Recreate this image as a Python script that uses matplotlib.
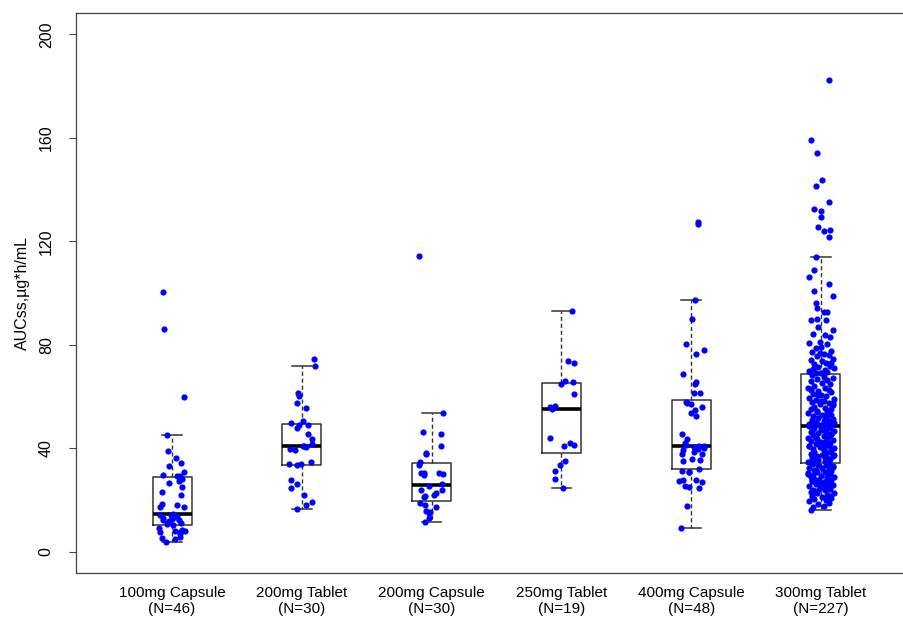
import matplotlib.pyplot as plt
import numpy as np

plt.rcParams['font.family'] = ['Liberation Sans', 'DejaVu Sans']

groups = ["100mg Capsule", "200mg Tablet", "200mg Capsule",
          "250mg Tablet", "400mg Capsule", "300mg Tablet"]
counts = [46, 30, 30, 19, 48, 227]

# AUCss values, with the horizontal jitter of each dot
auc_100cap = [100.5, 86.0, 59.6, 45.0, 39.0, 36.2, 34.1, 33.1, 30.9, 29.6,
              29.1, 29.3, 28.1, 27.1, 26.4, 24.8, 22.9, 21.9, 18.1, 18.3,
              17.1, 14.1, 14.5, 17.1, 12.9, 12.1, 13.2, 12.2, 11.7, 12.4,
              10.7, 10.2, 9.1, 7.5, 7.8, 7.5, 8.5, 7.8, 6.8, 5.1,
              5.5, 4.7, 3.5, 13.8, 11.0, 14.2]
jit_100cap = [-0.07, -0.06, 0.09, -0.04, -0.03, 0.03, 0.07, -0.02, 0.09, -0.07,
              0.04, 0.06, 0.08, 0.05, -0.02, 0.08, -0.08, 0.07, 0.04, -0.08,
              -0.09, -0.09, 0.01, 0.09, -0.07, -0.07, 0.03, 0.05, -0.02, 0.00,
              -0.04, 0.01, -0.10, -0.09, 0.02, 0.06, 0.08, 0.10, 0.06, -0.08,
              0.06, 0.02, -0.05, 0.04, 0.07, -0.01]

auc_200tab = [74.6, 71.9, 61.3, 60.0, 57.4, 55.7, 49.7, 50.5, 48.9, 48.9,
              47.8, 45.4, 43.6, 41.0, 40.4, 41.6, 39.7, 39.4, 34.0, 33.6,
              33.7, 34.5, 27.8, 26.3, 24.7, 22.0, 19.0, 18.0, 16.3, 40.8]
jit_200tab = [0.09, 0.10, -0.03, -0.02, -0.04, 0.03, -0.08, 0.01, -0.02, 0.05,
              -0.04, 0.05, 0.08, 0.02, 0.03, 0.08, -0.09, -0.05, -0.10, -0.04,
              -0.01, 0.07, -0.08, -0.04, -0.08, 0.02, 0.08, 0.03, -0.04, 0.01]

auc_200cap = [114.3, 53.4, 46.1, 45.6, 40.9, 38.3, 37.6, 34.6, 33.3, 30.4,
              30.4, 29.7, 30.4, 30.0, 26.3, 25.5, 23.9, 23.9, 22.7, 22.0,
              21.1, 21.5, 18.9, 18.1, 17.1, 15.6, 14.9, 12.9, 11.5, 15.3]
jit_200cap = [-0.10, 0.09, -0.07, 0.07, 0.07, -0.04, -0.04, -0.09, -0.10, -0.08,
              -0.06, -0.06, 0.06, 0.09, 0.08, -0.02, -0.08, 0.08, 0.03, 0.02,
              -0.06, -0.05, -0.09, -0.05, 0.03, -0.04, -0.02, -0.02, -0.05, -0.01]

auc_250tab = [93.1, 73.6, 72.8, 64.7, 65.8, 65.6, 60.9, 55.9, 55.1, 56.4,
              44.1, 40.9, 41.8, 41.2, 35.0, 33.3, 31.3, 27.9, 24.4]
jit_250tab = [0.08, 0.05, 0.10, 0.00, 0.03, 0.09, 0.10, -0.09, -0.07, -0.05,
              -0.09, 0.02, 0.07, 0.10, 0.03, -0.01, -0.05, -0.05, 0.01]

auc_400cap = [127.5, 126.6, 97.2, 89.8, 80.2, 77.9, 76.3, 68.7, 64.9, 65.5,
              61.5, 61.4, 57.9, 57.4, 57.0, 55.9, 54.9, 53.4, 52.6, 45.6,
              43.5, 41.3, 41.0, 40.2, 39.5, 40.3, 39.1, 38.5, 37.6, 35.1,
              35.9, 35.5, 31.0, 30.6, 30.8, 32.0, 27.1, 27.7, 27.7, 26.8,
              25.5, 24.8, 24.4, 17.8, 9.0, 40.7, 42.0, 37.9]
jit_400cap = [0.05, 0.05, 0.03, 0.01, -0.04, 0.10, 0.04, -0.06, 0.03, 0.04,
              0.02, 0.07, -0.04, -0.03, 0.00, 0.08, 0.03, 0.00, 0.04, -0.07,
              -0.03, -0.04, 0.10, 0.10, 0.05, 0.02, -0.06, 0.02, -0.07, -0.06,
              0.01, 0.07, -0.07, -0.02, -0.02, 0.06, -0.09, -0.06, 0.04, 0.08,
              -0.05, -0.02, 0.06, -0.03, -0.08, 0.06, -0.05, 0.08]

auc_300tab = [182.5, 159.2, 154.3, 143.9, 141.2, 135.3, 132.6, 131.9, 129.3, 125.5,
              124.2, 123.8, 121.5, 113.8, 108.9, 106.2, 103.4, 100.9, 98.8, 96.0,
              94.3, 92.7, 92.5, 89.6, 89.8, 89.4, 87.0, 85.7, 84.3, 83.6,
              82.9, 81.2, 80.7, 80.1, 79.3, 78.6, 77.5, 77.2, 76.4, 75.9,
              75.5, 74.6, 74.1, 73.7, 72.8, 72.5, 71.9, 71.4, 71.0, 70.6,
              70.1, 69.8, 69.4, 69.1, 68.9, 76.8, 73.0,
              68.4, 67.6, 67.3, 66.7, 66.2, 65.9, 65.0, 64.8, 64.1, 63.4,
              63.1, 62.5, 62.0, 61.7, 61.0, 60.7, 60.2, 59.5, 59.1, 58.7,
              58.2, 57.8, 57.3, 56.9, 56.6, 55.9, 55.6, 55.3, 54.7, 54.2,
              54.1, 53.5, 53.0, 52.7, 52.4, 51.9, 51.7, 51.2, 50.9, 50.6,
              50.4, 50.1, 49.8, 49.5, 49.4, 49.1, 48.9, 48.8, 48.7, 62.3,
              58.4, 55.0, 53.8, 51.5, 50.0, 57.6, 60.4, 49.6,
              48.4, 48.2, 47.8, 47.6, 47.1, 46.8, 46.6, 46.2, 45.9, 45.5,
              45.2, 44.8, 44.5, 44.1, 43.8, 43.4, 43.2, 42.7, 42.4, 42.1,
              41.6, 41.4, 40.9, 40.7, 40.3, 40.0, 39.5, 39.3, 38.8, 38.6,
              38.1, 37.9, 37.5, 37.0, 36.9, 36.3, 36.0, 35.8, 35.3, 35.1,
              34.6, 34.4, 34.2, 47.3, 45.4, 43.9, 42.6, 40.8, 39.2, 37.4,
              35.6, 44.6, 41.8, 38.4, 46.1, 36.7,
              33.9, 33.6, 33.3, 32.8, 32.5, 32.3, 31.8, 31.6, 31.3, 30.8,
              30.7, 30.2, 29.8, 29.7, 29.2, 28.8, 28.7, 28.2, 27.8, 27.7,
              27.1, 26.8, 26.6, 26.1, 25.7, 25.3, 25.2, 24.6, 24.2, 23.8,
              23.7, 23.0, 22.7, 22.5, 21.9, 21.5, 21.2, 20.7, 20.4, 19.8,
              19.5, 18.8, 18.5, 17.7, 17.3, 16.2, 33.1, 31.4, 29.0, 27.4,
              25.6, 23.3, 21.3, 30.1, 26.6, 24.0, 28.1]
jit_300tab = [0.06, -0.08, -0.03, 0.01, -0.04, 0.06, -0.05, 0.00, 0.00, -0.02,
              0.07, 0.02, 0.06, -0.04, -0.05, -0.09, 0.06, -0.05, 0.09, -0.04,
              -0.03, 0.02, 0.05, -0.08, -0.03, 0.04, -0.02, 0.09, -0.06, 0.03,
              0.07, -0.01, -0.09, 0.05, 0.00, -0.04, 0.08, -0.07, 0.02, 0.06,
              -0.03, 0.09, -0.08, 0.01, 0.04, -0.05, 0.07, -0.02, 0.10, -0.06,
              0.03, -0.09, 0.05, 0.00, -0.04, -0.01, 0.08,
              -0.07, 0.02, 0.09, -0.03, 0.05, -0.08, 0.01, 0.07, -0.05, 0.03,
              -0.10, 0.06, -0.02, 0.08, -0.06, 0.00, 0.04, -0.09, 0.10, -0.04,
              0.02, -0.07, 0.06, -0.01, 0.09, -0.05, 0.03, -0.08, 0.07, -0.03,
              0.05, -0.10, 0.01, 0.08, -0.06, 0.04, -0.02, 0.09, -0.07, 0.02,
              0.06, -0.04, 0.10, -0.09, 0.03, -0.01, 0.07, -0.05, 0.05, -0.08,
              0.00, 0.08, -0.03, 0.04, -0.06, 0.09, -0.02, 0.06,
              -0.09, 0.03, 0.07, -0.05, 0.01, 0.10, -0.07, 0.04, -0.02, 0.08,
              -0.06, 0.02, 0.06, -0.10, 0.05, -0.03, 0.09, -0.08, 0.00, 0.07,
              -0.04, 0.03, -0.09, 0.06, -0.01, 0.10, -0.06, 0.02, 0.08, -0.05,
              0.04, -0.08, 0.01, 0.09, -0.03, 0.05, -0.07, 0.07, -0.02, 0.03,
              -0.10, 0.06, -0.05, 0.00, 0.08, -0.04, 0.04, -0.09, 0.02, 0.10,
              -0.06, 0.05, -0.01, 0.07, -0.08, 0.03,
              -0.07, 0.04, -0.02, 0.09, -0.09, 0.01, 0.06, -0.05, 0.08, -0.03,
              0.03, -0.10, 0.07, -0.06, 0.00, 0.10, -0.08, 0.05, -0.02, 0.08,
              -0.07, 0.02, 0.06, -0.04, 0.09, -0.09, 0.04, -0.01, 0.07, -0.06,
              0.03, -0.08, 0.10, -0.03, 0.05, -0.07, 0.01, 0.08, -0.05, 0.04,
              -0.09, 0.06, -0.02, 0.02, -0.06, -0.08, 0.09, -0.04, 0.05, -0.07,
              0.03, -0.03, 0.07, -0.10, 0.00, 0.06, -0.05]

values = [auc_100cap, auc_200tab, auc_200cap, auc_250tab, auc_400cap, auc_300tab]
jitters = [jit_100cap, jit_200tab, jit_200cap, jit_250tab, jit_400cap, jit_300tab]
labels = [f"{g}\n(N={n})" for g, n in zip(groups, counts)]

fig = plt.figure(figsize=(9.04, 6.18), dpi=100)
ax = fig.add_axes([76 / 904, 1 - 573 / 618, 841 / 904, 560 / 618])

pos = np.arange(1, len(groups) + 1)
ax.boxplot(values, positions=pos, widths=0.3, capwidths=0.15, showfliers=False,
           whis=1.5, patch_artist=False,
           boxprops=dict(color='#333333', lw=1.1),
           whiskerprops=dict(color='#333333', lw=1, linestyle=(0, (3, 2))),
           capprops=dict(color='#333333', lw=1.1),
           medianprops=dict(color='black', lw=2.6))

for i, (v, j) in enumerate(zip(values, jitters)):
    ax.scatter(pos[i] + np.array(j), v, s=20, color='#0000FF', zorder=3, linewidths=0)

ax.set_xlim(0.26, 6.74)
ax.set_ylim(-8.3, 208.3)
ax.set_yticks([0, 40, 80, 120, 160, 200])
ax.set_xticks(pos)
ax.set_xticklabels(labels, fontsize=11, linespacing=1.2)
ax.tick_params(axis='x', length=0, pad=9)
ax.tick_params(axis='y', length=5, width=0.8, color='#444444', pad=11, labelsize=11.5)
for t in ax.get_yticklabels():
    t.set_rotation(90)
    t.set_va('center')
ax.set_ylabel("AUCss,µg*h/mL", fontsize=11.5, labelpad=6)
for sp in ax.spines.values():
    sp.set_color('#444444')
    sp.set_linewidth(0.9)

fig.savefig("out.png", dpi=100)
